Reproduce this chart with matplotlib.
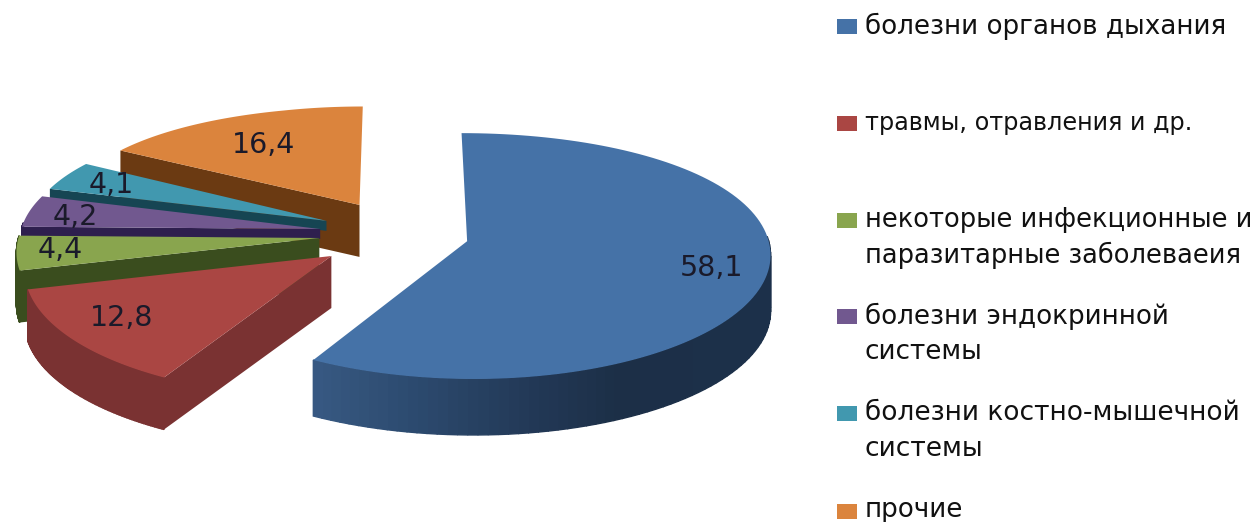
import numpy as np
import matplotlib
matplotlib.use('Agg')
import matplotlib.pyplot as plt
from matplotlib.patches import Polygon, Rectangle

# данные с картинки
labels = ['болезни органов дыхания', 'травмы, отравления и др.',
          'некоторые инфекционные и\nпаразитарные заболеваеия',
          'болезни эндокринной\nсистемы', 'болезни костно-мышечной\nсистемы', 'прочие']
values = [58.1, 12.8, 4.4, 4.2, 4.1, 16.4]
value_labels = ['58,1', '12,8', '4,4', '4,2', '4,1', '16,4']
colors = ['#4572a7', '#aa4643', '#89a54e', '#71588f', '#4198af', '#db843d']
side_colors = ['#1f3552', '#7a3232', '#3a4d1e', '#2e1f4e', '#164553', '#6b3a12']
explode = [0.23, 0.285, 0.27, 0.27, 0.27, 0.28]
depths = [56, 52, 52, 10, 10, 52]
legend_sizes = [18.9, 17.2, 18.5, 18.9, 19, 18.9]

CX, CY = 400, 234
RX = 300
RY_BACK, RY_FRONT = 114, 124
PERSP = 0.09


def project(u, v):
    s = 1 / (1 + PERSP * v)
    # сзади эллипс немного площе, переход плавный
    ry = RY_FRONT - (RY_FRONT - RY_BACK) * min(max(v, 0) / 1.2, 1)
    return CX + RX * u * s, CY - ry * v * s


def slice_outline(start, end, d, n=120):
    # углы по часовой стрелке от верха, в градусах
    mid = np.radians((start + end) / 2)
    off_u, off_v = d * np.sin(mid), d * np.cos(mid)
    t = np.radians(np.linspace(start, end, n))
    tip = project(off_u, off_v)
    arc = [project(off_u + np.sin(a), off_v + np.cos(a)) for a in t]
    return tip, arc, t


def down(p, h):
    return (p[0], p[1] + h)


def blue_side(x):
    # градиент боковой стенки синего сектора по x
    xs = [310, 420, 540, 620, 775]
    cs = np.array([[0x38, 0x5a, 0x84], [0x2c, 0x4a, 0x6e], [0x22, 0x38, 0x56],
                   [0x1c, 0x2f, 0x47], [0x1c, 0x30, 0x4a]]) / 255
    return tuple(np.interp(x, xs, cs[:, k]) for k in range(3))


fig = plt.figure(figsize=(12.56, 5.22), dpi=100)
ax = fig.add_axes([0, 0, 1, 1])
ax.set_xlim(0, 1256)
ax.set_ylim(522, 0)
ax.axis('off')

# границы секторов
angles = np.cumsum([0] + values) / sum(values) * 360
# порядок рисования: сзади вперёд
order = [5, 4, 3, 2, 1, 0]
z = 1
for i in order:
    tip, arc, t = slice_outline(angles[i], angles[i + 1], explode[i])
    h = depths[i]
    # внешняя стенка, только передняя часть дуги
    for j in range(len(arc) - 1):
        if np.cos(t[j]) > 0.05:
            continue
        a, b = arc[j], arc[j + 1]
        col = blue_side(a[0]) if i == 0 else side_colors[i]
        ax.add_patch(Polygon([a, b, down(b, h), down(a, h)], closed=True, fc=col, ec=col, lw=1, zorder=z))
    z += 1
    # грани у вершины, только те что повернуты к зрителю
    if np.sin(t[0]) < 0:
        ax.add_patch(Polygon([tip, arc[0], down(arc[0], h), down(tip, h)], closed=True,
                             fc=side_colors[i], ec='none', zorder=z))
    if np.sin(t[-1]) > 0:
        ax.add_patch(Polygon([tip, arc[-1], down(arc[-1], h), down(tip, h)], closed=True,
                             fc=side_colors[i], ec='none', zorder=z))
    z += 1
    ax.add_patch(Polygon([tip] + arc, closed=True, fc=colors[i], ec='none', zorder=z))
    z += 1

# подписи значений
value_pos = [(712, 268), (122, 318), (60, 250), (75, 217), (111, 185), (264, 145)]
for txt, (x, y) in zip(value_labels, value_pos):
    ax.text(x, y, txt, fontsize=20.5, color='#1a1a2a', ha='center', va='center',
            family='DejaVu Sans', zorder=50)

# легенда
legend_y = [26, 123, 220, 316, 413, 511]
legend_text_y = [26, 123, 238, 334, 431, 510]
for i, lab in enumerate(labels):
    ax.add_patch(Rectangle((837, legend_y[i] - 7.5), 20, 15, fc=colors[i], ec='none'))
    ax.text(865, legend_text_y[i], lab, fontsize=legend_sizes[i], color='#111111', va='center',
            family='DejaVu Sans', linespacing=1.45)

fig.savefig('out.png', dpi=100)
